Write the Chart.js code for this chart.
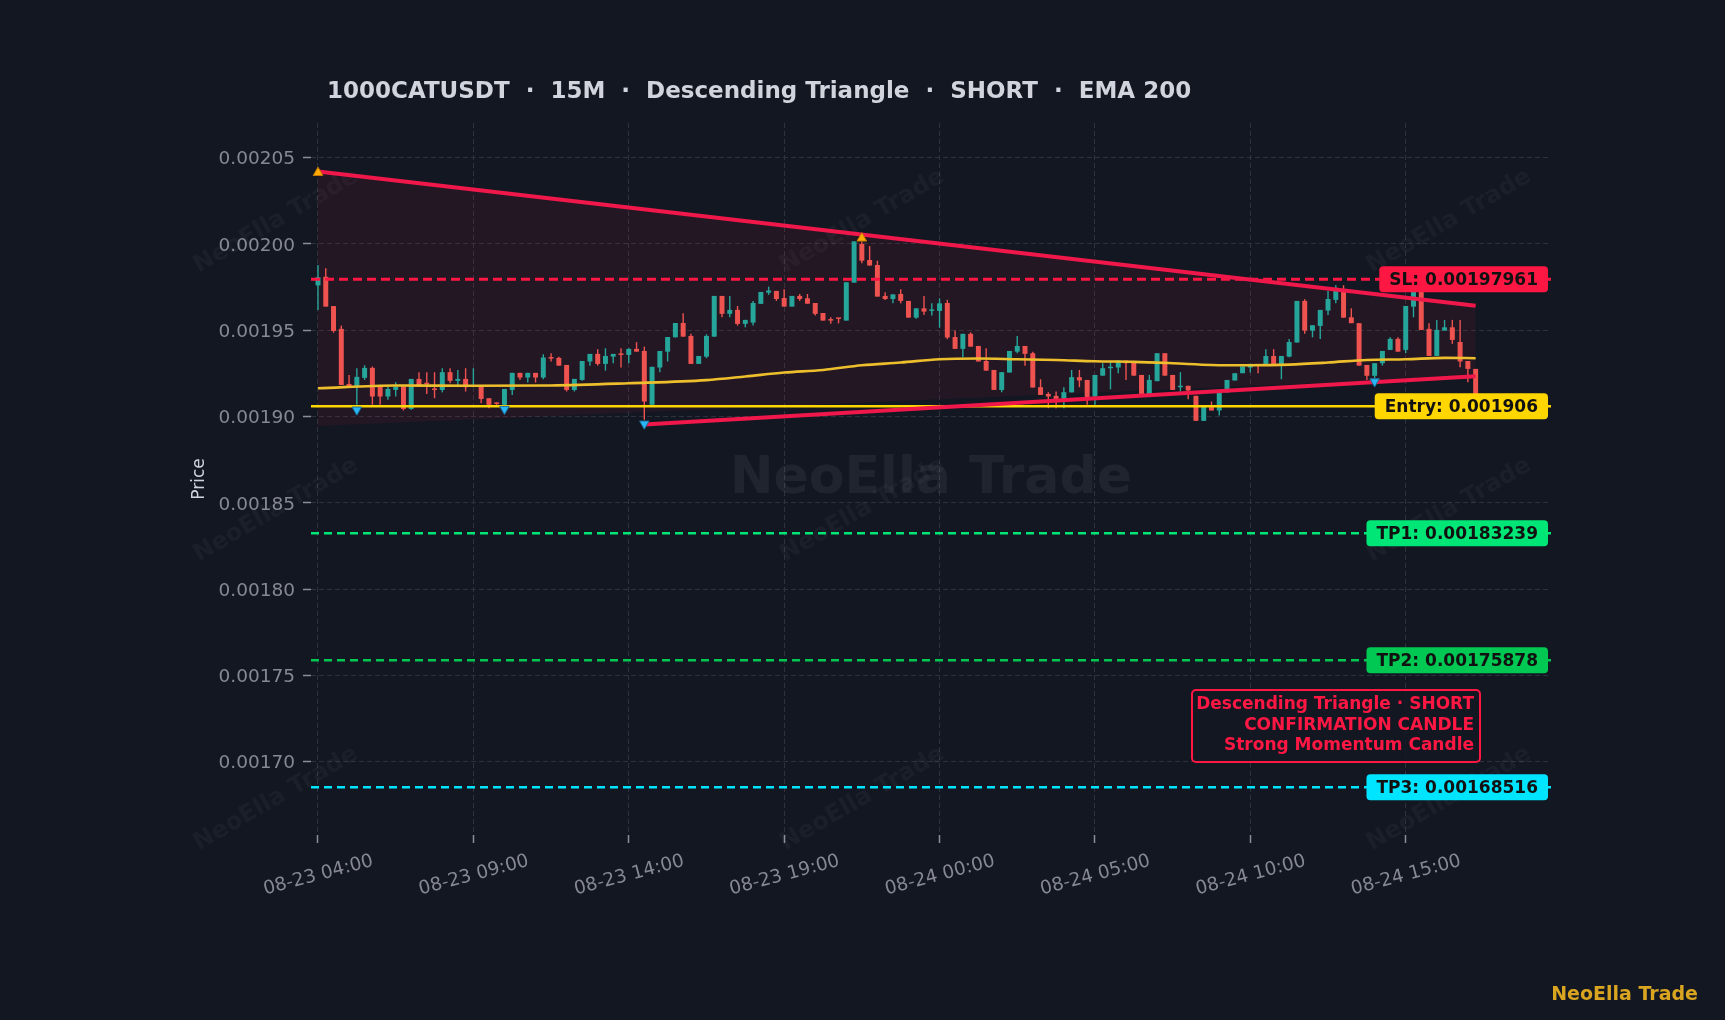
<!DOCTYPE html>
<html>
<head>
<meta charset="utf-8">
<script src="https://cdn.jsdelivr.net/npm/chart.js@4.4.0/dist/chart.umd.min.js"></script>
<style>
  html, body { margin: 0; padding: 0; background: #131722; }
  #wrap { width: 1725px; height: 1020px; }
</style>
</head>
<body>
<div id="wrap"><canvas id="chart" width="1725" height="1020"></canvas></div>
<script>
// 15m candles, index 0 = 08-23 04:00
const opens = [
  0.0019760,0.0019810,0.0019640,0.0019508,0.0019189,0.0019174,0.0019224,0.0019282,0.0019174,0.0019116,
  0.0019154,0.0019174,0.0019044,0.0019218,0.0019193,0.0019162,0.0019154,0.0019257,0.0019207,0.0019218,
  0.0019174,0.0019174,0.0019106,0.0019079,0.0019068,0.0019154,0.0019253,0.0019226,0.0019253,0.0019226,
  0.0019342,0.0019340,0.0019299,0.0019154,0.0019212,0.0019319,0.0019363,0.0019305,0.0019347,0.0019363,
  0.0019357,0.0019392,0.0019380,0.0019068,0.0019284,0.0019376,0.0019459,0.0019542,0.0019467,0.0019305,
  0.0019347,0.0019463,0.0019699,0.0019595,0.0019618,0.0019537,0.0019544,0.0019653,0.0019718,0.0019728,
  0.0019687,0.0019637,0.0019699,0.0019685,0.0019658,0.0019600,0.0019562,0.0019570,0.0019556,0.0019776,
  0.0020000,0.0019907,0.0019878,0.0019699,0.0019681,0.0019710,0.0019670,0.0019573,0.0019627,0.0019612,
  0.0019612,0.0019658,0.0019461,0.0019392,0.0019479,0.0019409,0.0019322,0.0019270,0.0019154,0.0019255,
  0.0019376,0.0019409,0.0019367,0.0019170,0.0019131,0.0019120,0.0019102,0.0019140,0.0019228,0.0019212,
  0.0019116,0.0019237,0.0019280,0.0019284,0.0019324,0.0019313,0.0019241,0.0019131,0.0019205,0.0019367,
  0.0019241,0.0019170,0.0019178,0.0019120,0.0018975,0.0019054,0.0019035,0.0019140,0.0019209,0.0019251,
  0.0019284,0.0019305,0.0019305,0.0019351,0.0019305,0.0019347,0.0019429,0.0019670,0.0019498,0.0019525,
  0.0019614,0.0019676,0.0019728,0.0019575,0.0019541,0.0019299,0.0019236,0.0019309,0.0019386,0.0019450,
  0.0019386,0.0019637,0.0019734,0.0019508,0.0019351,0.0019498,0.0019517,0.0019432,0.0019322,0.0019276
];
const highs = [
  0.0019878,0.0019859,0.0019640,0.0019527,0.0019241,0.0019280,0.0019297,0.0019290,0.0019174,0.0019174,
  0.0019199,0.0019174,0.0019218,0.0019257,0.0019257,0.0019257,0.0019280,0.0019280,0.0019270,0.0019280,
  0.0019280,0.0019174,0.0019106,0.0019081,0.0019160,0.0019253,0.0019253,0.0019253,0.0019253,0.0019361,
  0.0019367,0.0019347,0.0019299,0.0019218,0.0019322,0.0019363,0.0019390,0.0019396,0.0019363,0.0019396,
  0.0019396,0.0019431,0.0019405,0.0019288,0.0019380,0.0019461,0.0019542,0.0019598,0.0019479,0.0019351,
  0.0019477,0.0019699,0.0019699,0.0019699,0.0019641,0.0019560,0.0019670,0.0019722,0.0019753,0.0019728,
  0.0019737,0.0019699,0.0019710,0.0019710,0.0019658,0.0019600,0.0019575,0.0019570,0.0019778,0.0020015,
  0.0020015,0.0019988,0.0019903,0.0019720,0.0019708,0.0019737,0.0019670,0.0019627,0.0019699,0.0019656,
  0.0019685,0.0019676,0.0019498,0.0019479,0.0019488,0.0019409,0.0019396,0.0019270,0.0019257,0.0019380,
  0.0019467,0.0019409,0.0019376,0.0019216,0.0019141,0.0019145,0.0019170,0.0019270,0.0019270,0.0019212,
  0.0019241,0.0019309,0.0019319,0.0019324,0.0019324,0.0019313,0.0019241,0.0019241,0.0019367,0.0019367,
  0.0019241,0.0019257,0.0019178,0.0019120,0.0019058,0.0019087,0.0019140,0.0019212,0.0019251,0.0019290,
  0.0019305,0.0019305,0.0019390,0.0019390,0.0019351,0.0019450,0.0019670,0.0019679,0.0019529,0.0019618,
  0.0019728,0.0019761,0.0019761,0.0019627,0.0019541,0.0019299,0.0019309,0.0019380,0.0019459,0.0019459,
  0.0019641,0.0019763,0.0019763,0.0019541,0.0019560,0.0019560,0.0019560,0.0019560,0.0019322,0.0019276
];
const lows = [
  0.0019618,0.0019637,0.0019486,0.0019183,0.0019174,0.0019068,0.0019212,0.0019068,0.0019068,0.0019097,
  0.0019116,0.0019035,0.0019040,0.0019174,0.0019130,0.0019106,0.0019140,0.0019193,0.0019174,0.0019145,
  0.0019174,0.0019077,0.0019048,0.0019068,0.0019058,0.0019125,0.0019212,0.0019197,0.0019197,0.0019216,
  0.0019319,0.0019295,0.0019145,0.0019145,0.0019207,0.0019295,0.0019295,0.0019266,0.0019309,0.0019284,
  0.0019309,0.0019376,0.0018981,0.0019068,0.0019257,0.0019319,0.0019459,0.0019463,0.0019305,0.0019305,
  0.0019338,0.0019463,0.0019575,0.0019575,0.0019527,0.0019517,0.0019527,0.0019653,0.0019705,0.0019670,
  0.0019637,0.0019637,0.0019670,0.0019654,0.0019585,0.0019556,0.0019537,0.0019540,0.0019556,0.0019776,
  0.0019888,0.0019875,0.0019695,0.0019676,0.0019656,0.0019656,0.0019573,0.0019566,0.0019589,0.0019585,
  0.0019515,0.0019448,0.0019392,0.0019344,0.0019405,0.0019319,0.0019266,0.0019154,0.0019140,0.0019255,
  0.0019367,0.0019295,0.0019168,0.0019125,0.0019048,0.0019048,0.0019048,0.0019140,0.0019170,0.0019068,
  0.0019068,0.0019237,0.0019158,0.0019251,0.0019212,0.0019237,0.0019131,0.0019131,0.0019205,0.0019237,
  0.0019154,0.0019145,0.0019100,0.0018975,0.0018975,0.0019035,0.0019006,0.0019140,0.0019209,0.0019251,
  0.0019255,0.0019251,0.0019305,0.0019305,0.0019216,0.0019343,0.0019429,0.0019479,0.0019459,0.0019450,
  0.0019589,0.0019656,0.0019573,0.0019541,0.0019295,0.0019212,0.0019212,0.0019295,0.0019386,0.0019376,
  0.0019367,0.0019575,0.0019502,0.0019351,0.0019351,0.0019498,0.0019421,0.0019286,0.0019199,0.0019100
];
const closes = [
  0.0019807,0.0019637,0.0019496,0.0019183,0.0019174,0.0019230,0.0019282,0.0019116,0.0019116,0.0019160,
  0.0019174,0.0019044,0.0019218,0.0019174,0.0019187,0.0019154,0.0019257,0.0019207,0.0019218,0.0019170,
  0.0019180,0.0019102,0.0019068,0.0019073,0.0019160,0.0019253,0.0019226,0.0019253,0.0019226,0.0019342,
  0.0019336,0.0019295,0.0019154,0.0019218,0.0019322,0.0019363,0.0019305,0.0019351,0.0019363,0.0019357,
  0.0019392,0.0019376,0.0019087,0.0019288,0.0019380,0.0019461,0.0019542,0.0019463,0.0019305,0.0019351,
  0.0019467,0.0019699,0.0019595,0.0019618,0.0019537,0.0019560,0.0019658,0.0019722,0.0019730,0.0019681,
  0.0019637,0.0019699,0.0019681,0.0019654,0.0019595,0.0019556,0.0019556,0.0019566,0.0019778,0.0020015,
  0.0019903,0.0019875,0.0019695,0.0019681,0.0019708,0.0019670,0.0019573,0.0019627,0.0019608,0.0019618,
  0.0019656,0.0019458,0.0019392,0.0019479,0.0019405,0.0019319,0.0019266,0.0019154,0.0019257,0.0019380,
  0.0019409,0.0019363,0.0019168,0.0019125,0.0019116,0.0019102,0.0019141,0.0019228,0.0019209,0.0019097,
  0.0019241,0.0019280,0.0019288,0.0019324,0.0019309,0.0019237,0.0019131,0.0019212,0.0019367,0.0019237,
  0.0019154,0.0019178,0.0019151,0.0018975,0.0019058,0.0019035,0.0019140,0.0019212,0.0019251,0.0019290,
  0.0019305,0.0019295,0.0019351,0.0019305,0.0019351,0.0019432,0.0019670,0.0019498,0.0019529,0.0019618,
  0.0019681,0.0019728,0.0019573,0.0019541,0.0019295,0.0019236,0.0019309,0.0019380,0.0019450,0.0019376,
  0.0019641,0.0019724,0.0019502,0.0019351,0.0019502,0.0019517,0.0019444,0.0019319,0.0019276,0.0019118
];

// EMA 200 read at sampled candles
const emaIdx = [0, 10, 20, 30, 40, 50, 55, 60, 65, 70, 75, 80, 85, 90, 95, 100, 105, 110, 115, 120, 125, 130, 135, 140, 145, 149];
const emaVal = [0.0019164, 0.0019180, 0.0019178, 0.0019180, 0.0019193, 0.0019211, 0.0019232, 0.0019255, 0.0019270, 0.0019297,
  0.0019313, 0.0019332, 0.0019336, 0.0019332, 0.0019328, 0.0019320, 0.0019317, 0.0019309, 0.0019299, 0.0019297,
  0.0019301, 0.0019313, 0.0019328, 0.0019332, 0.0019340, 0.0019338];

// trade levels
const levelNames = ['SL', 'Entry', 'TP1', 'TP2', 'TP3'];
const levelValues = [0.00197961, 0.001906, 0.00183239, 0.00175878, 0.00168516];

// triangle pattern lines [startIdx, startPrice, endIdx, endPrice]
const upperLine = [0, 0.0020420, 149, 0.0019642];
const lowerLine = [42, 0.0018954, 149, 0.0019234];
const zoneFloor = [0, 0.0018945, 149, 0.0019234];

// pivot markers
const pivotHighIdx = [0, 70];
const pivotHighVal = [0.0020413, 0.0020033];
const pivotLowIdx = [5, 24, 42, 136];
const pivotLowVal = [0.0019039, 0.0019043, 0.0018958, 0.0019203];

// axes
const xTickIdx = [0, 20, 40, 60, 80, 100, 120, 140];
const xTickLabels = ['08-23 04:00', '08-23 09:00', '08-23 14:00', '08-23 19:00', '08-24 00:00', '08-24 05:00', '08-24 10:00', '08-24 15:00'];
const yTicks = [0.00170, 0.00175, 0.00180, 0.00185, 0.00190, 0.00195, 0.00200, 0.00205];
const xMin = -0.9, xMax = 158.7;
const yMin = 0.0016575, yMax = 0.0020701;

const noteLines = ['Descending Triangle · SHORT', 'CONFIRMATION CANDLE', 'Strong Momentum Candle'];
const titleText = '1000CATUSDT  ·  15M  ·  Descending Triangle  ·  SHORT  ·  EMA 200';

const UP = '#26a69a', DOWN = '#ef5350';
const levelColors = ['#ff1744', '#ffd600', '#00e676', '#00c853', '#00e5ff'];
const levelDash = [[9, 5], [], [8, 5], [8, 5], [8, 5]];
const FONT = '"DejaVu Sans", sans-serif';

const idx = opens.map((_, i) => i);
const candleColor = ctx => closes[ctx.dataIndex] >= opens[ctx.dataIndex] ? UP : DOWN;
const seg = s => [{ x: s[0], y: s[1] }, { x: s[2], y: s[3] }];

const datasets = [
  { // 0 wicks
    type: 'bar', grouped: false, order: 6,
    data: idx.map(i => ({ x: i, y: [lows[i], highs[i]] })),
    backgroundColor: candleColor, maxBarThickness: 1.4
  },
  { // 1 bodies
    type: 'bar', grouped: false, order: 5,
    data: idx.map(i => ({ x: i, y: [opens[i], closes[i]] })),
    backgroundColor: candleColor, barPercentage: 0.8, categoryPercentage: 0.8,
    maxBarThickness: 5, minBarLength: 1.5
  },
  { // 2 ema
    type: 'line', order: 4,
    data: emaIdx.map((x, i) => ({ x, y: emaVal[i] })),
    borderColor: '#eebf2c', borderWidth: 2.6, pointRadius: 0, cubicInterpolationMode: 'monotone'
  },
  { // 3 zone floor (fill target)
    type: 'line', order: 9,
    data: seg(zoneFloor), borderWidth: 0, borderColor: 'transparent', pointRadius: 0
  },
  { // 4 upper line
    type: 'line', order: 1,
    data: seg(upperLine), borderColor: '#f0174a', borderWidth: 4, pointRadius: 0,
    fill: { target: 3 }, backgroundColor: 'rgba(255,23,68,0.075)'
  },
  { // 5 lower line
    type: 'line', order: 1,
    data: seg(lowerLine), borderColor: '#f0174a', borderWidth: 4, pointRadius: 0
  },
  ...levelValues.map((v, k) => ({
    type: 'line', order: 3,
    data: [{ x: xMin, y: v }, { x: xMax, y: v }],
    borderColor: levelColors[k], borderWidth: k === 0 ? 3 : 2.6, borderDash: levelDash[k], pointRadius: 0
  })),
  {
    type: 'line', order: 0, showLine: false,
    data: pivotHighIdx.map((x, i) => ({ x, y: pivotHighVal[i] })),
    pointStyle: 'triangle', pointRadius: 5.5, pointBackgroundColor: '#ffab00', pointBorderColor: '#c77c00', pointBorderWidth: 1
  },
  {
    type: 'line', order: 0, showLine: false,
    data: pivotLowIdx.map((x, i) => ({ x, y: pivotLowVal[i] })),
    pointStyle: 'triangle', rotation: 180, pointRadius: 5.5, pointBackgroundColor: '#29b6f6', pointBorderColor: '#1c6f99', pointBorderWidth: 1
  }
];

function roundRect(ctx, x, y, w, h, r) {
  ctx.beginPath();
  ctx.moveTo(x + r, y);
  ctx.arcTo(x + w, y, x + w, y + h, r);
  ctx.arcTo(x + w, y + h, x, y + h, r);
  ctx.arcTo(x, y + h, x, y, r);
  ctx.arcTo(x, y, x + w, y, r);
  ctx.closePath();
}

const decor = {
  id: 'decor',
  beforeDatasetsDraw(chart) {
    const { ctx, chartArea: a, width, height } = chart;
    ctx.save();
    ctx.textAlign = 'center';
    ctx.textBaseline = 'middle';
    ctx.font = 'bold 24px ' + FONT;
    ctx.fillStyle = 'rgba(255,255,255,0.035)';
    for (const fx of [0.16, 0.5, 0.84]) {
      for (const fy of [0.217, 0.5, 0.783]) {
        ctx.save();
        ctx.translate(width * fx, height * fy);
        ctx.rotate(-Math.PI / 6);
        ctx.fillText('NeoElla Trade', 0, 0);
        ctx.restore();
      }
    }
    ctx.font = 'bold 52px ' + FONT;
    ctx.fillStyle = 'rgba(255,255,255,0.06)';
    ctx.fillText('NeoElla Trade', (a.left + a.right) / 2, (a.top + a.bottom) / 2);
    ctx.restore();
  },
  afterDatasetsDraw(chart) {
    const { ctx, chartArea: a, scales } = chart;
    ctx.save();
    ctx.font = 'bold 17px ' + FONT;
    ctx.textBaseline = 'middle';
    ctx.textAlign = 'right';
    levelNames.forEach((name, k) => {
      const txt = name + ': ' + levelValues[k];
      const y = scales.y.getPixelForValue(levelValues[k]);
      const w = ctx.measureText(txt).width + 20;
      const right = a.right - 3;
      ctx.fillStyle = levelColors[k];
      roundRect(ctx, right - w, y - 13, w, 26, 4);
      ctx.fill();
      ctx.fillStyle = '#111111';
      ctx.fillText(txt, right - 10, y + 1);
    });
    // confirmation note
    const bx = a.right - 359, by = a.top + 567, bw = 288, bh = 72;
    ctx.strokeStyle = '#ff1744';
    ctx.lineWidth = 2;
    ctx.fillStyle = 'rgba(19,23,34,0.85)';
    roundRect(ctx, bx, by, bw, bh, 4);
    ctx.fill();
    ctx.stroke();
    ctx.fillStyle = '#ff1744';
    noteLines.forEach((t, k) => ctx.fillText(t, bx + bw - 6, by + 15 + k * 20.5));
    ctx.restore();
  },
  afterDraw(chart) {
    const { ctx, chartArea: a, width, height } = chart;
    ctx.save();
    ctx.textBaseline = 'middle';
    ctx.textAlign = 'left';
    ctx.fillStyle = '#d1d4dc';
    ctx.font = 'bold 23px ' + FONT;
    ctx.fillText(titleText, 327, 92);
    ctx.font = '17px ' + FONT;
    ctx.save();
    ctx.translate(200, (a.top + a.bottom) / 2);
    ctx.rotate(-Math.PI / 2);
    ctx.textAlign = 'center';
    ctx.fillText('Price', 0, 0);
    ctx.restore();
    ctx.font = 'bold 19px ' + FONT;
    ctx.fillStyle = '#d9a521';
    ctx.textAlign = 'right';
    ctx.fillText('NeoElla Trade', width - 27, height - 25);
    ctx.restore();
  }
};

const gridStyle = {
  color: '#2e323c', lineWidth: 1, tickLength: 8, tickColor: '#8a8e99', tickWidth: 1.5, tickBorderDash: []
};

new Chart(document.getElementById('chart'), {
  type: 'bar',
  data: { datasets },
  options: {
    responsive: false,
    devicePixelRatio: 1,
    animation: false,
    layout: { padding: { top: 123, right: 174, bottom: 0, left: 0 } },
    plugins: {
      legend: { display: false },
      tooltip: { enabled: false },
      filler: { drawTime: 'beforeDatasetsDraw' }
    },
    scales: {
      x: {
        type: 'linear', min: xMin, max: xMax, offset: false,
        grid: { ...gridStyle, offset: false },
        border: { display: false, dash: [5, 3] },
        afterBuildTicks: s => { s.ticks = xTickIdx.map(v => ({ value: v })); },
        afterFit: s => { s.height = 185; },
        ticks: {
          autoSkip: false, minRotation: 15, maxRotation: 15, padding: 7, labelOffset: 55,
          color: '#868993', font: { family: FONT, size: 18.5 },
          callback: v => xTickLabels[xTickIdx.indexOf(v)]
        }
      },
      y: {
        min: yMin, max: yMax,
        grid: gridStyle,
        border: { display: false, dash: [5, 3] },
        afterBuildTicks: s => { s.ticks = yTicks.map(v => ({ value: v })); },
        afterFit: s => { s.width = 311; },
        ticks: {
          padding: 8, labelOffset: 2, color: '#868993', font: { family: FONT, size: 18.5 },
          callback: v => v.toFixed(5)
        }
      }
    }
  },
  plugins: [decor]
});
</script>
</body>
</html>
